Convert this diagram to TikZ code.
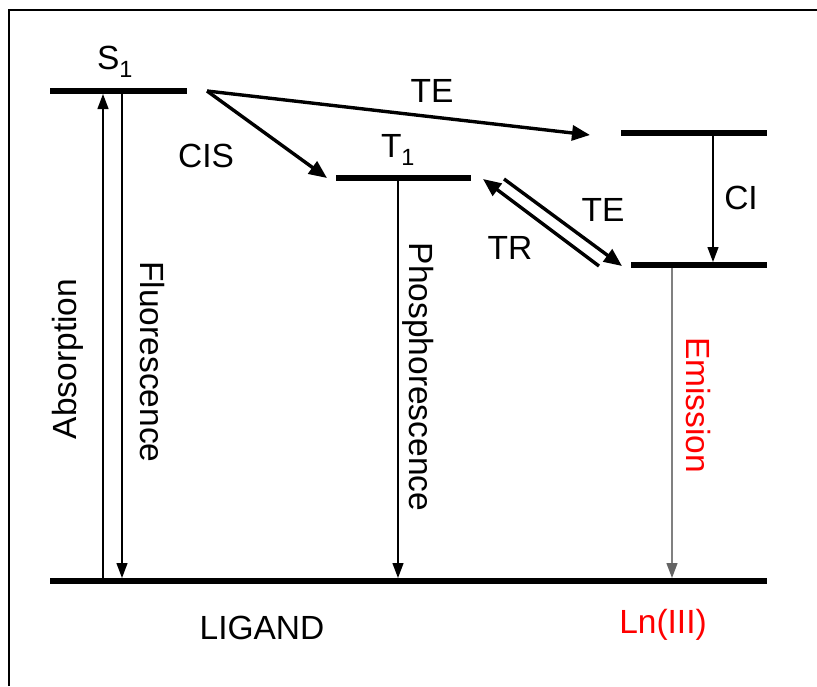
\documentclass[tikz,border=0pt]{standalone}
\usepackage{fontspec}
\setmainfont{Liberation Sans}
\usetikzlibrary{arrows.meta}
\definecolor{emline}{RGB}{128,128,128}
\definecolor{emtip}{RGB}{100,100,100}

\begin{document}
\begin{tikzpicture}[x=1pt,y=-1pt,
  level/.style={line width=5.5pt},
  trans/.style={line width=1.3pt,-{Triangle[length=15pt,width=11pt]}},
  fat/.style={line width=3.4pt,-{Triangle[length=18pt,width=15pt]}},
  lbl/.style={font=\fontsize{33.5}{38}\selectfont,inner sep=0pt}]
\useasboundingbox (0,0) rectangle (817,686);
\draw[line width=2pt] (9,686) -- (9,10) -- (817,10);
% levels
\coordinate (s1l) at (50,91); \coordinate (s1r) at (187,91);
\coordinate (t1l) at (336,178); \coordinate (t1r) at (471,178);
\coordinate (lnhl) at (621,133); \coordinate (lnhr) at (767,133);
\coordinate (lnll) at (631,265); \coordinate (lnlr) at (767,265);
\coordinate (gl) at (50,581); \coordinate (gr) at (767,581);
\draw[level] (s1l) -- (s1r); \draw[level] (t1l) -- (t1r);
\draw[level] (lnhl) -- (lnhr); \draw[level] (lnll) -- (lnlr);
\draw[level] (gl) -- (gr);
% vertical transitions
\coordinate (absA) at (103,578); \coordinate (absB) at (103,94);
\coordinate (fluA) at (122,94); \coordinate (fluB) at (122,578);
\coordinate (phoA) at (398,181); \coordinate (phoB) at (398,578);
\coordinate (ciA) at (713,136); \coordinate (ciB) at (713,262);
\coordinate (emA) at (672,268); \coordinate (emB) at (672,578);
\draw[trans] (absA) -- (absB);
\draw[trans] (fluA) -- (fluB);
\draw[trans] (phoA) -- (phoB);
\draw[trans] (ciA) -- (ciB);
\draw[line width=1.3pt,draw=emline,-{Triangle[length=15pt,width=11pt,color=emtip]}] (emA) -- (emB);
% transfers
\coordinate (s1o) at (207,91);
\coordinate (teA) at (590,135); \coordinate (cisA) at (327,178);
\coordinate (trA) at (599,266); \coordinate (trB) at (483,179);
\coordinate (te2A) at (504,179); \coordinate (te2B) at (622,266);
\draw[fat] (s1o) -- (teA);
\draw[fat] (s1o) -- (cisA);
\draw[fat] (trA) -- (trB);
\draw[fat] (te2A) -- (te2B);
% labels
\node[lbl] (s1) at (115,62) {S\textsubscript{1}};
\node[lbl] (t1) at (398,150) {T\textsubscript{1}};
\node[lbl] (te) at (432,91) {TE};
\node[lbl] (cis) at (206,156) {CIS};
\node[lbl] (te2) at (603,210) {TE};
\node[lbl] (tr) at (510,248) {TR};
\node[lbl] (ci) at (741,198) {CI};
\node[lbl,rotate=90] (abs) at (68,359) {Absorption};
\node[lbl,rotate=-90] (flu) at (152,362) {Fluorescence};
\node[lbl,rotate=-90] (pho) at (418,377) {Phosphorescence};
\node[lbl,rotate=-90,text=red] (em) at (698,405) {Emission};
\node[lbl] (lig) at (262,628) {LIGAND};
\node[lbl,text=red] (ln) at (663,625) {Ln(III)};
\end{tikzpicture}
\end{document}
